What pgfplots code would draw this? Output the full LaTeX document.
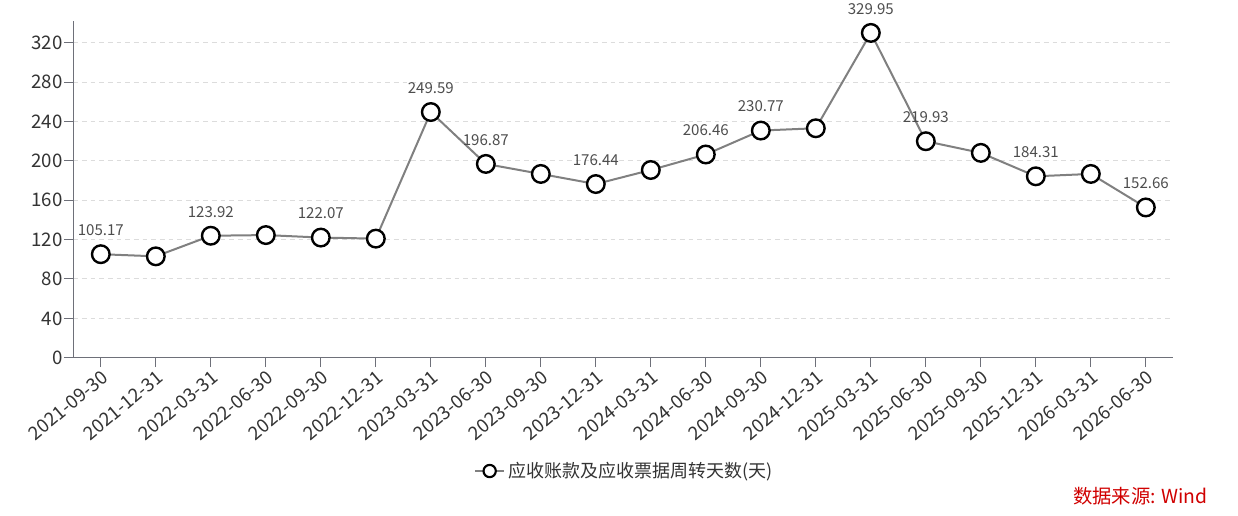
\documentclass[border=0pt]{standalone}
\usepackage{pgfplots}
\pgfplotsset{compat=1.18}
\usepackage{fontspec}
\setmainfont{Noto Sans CJK SC}
\definecolor{axisgray}{HTML}{6E7079}
\definecolor{gridgray}{HTML}{DCDCDC}
\definecolor{linegray}{HTML}{808080}
\definecolor{txt}{HTML}{333333}
\definecolor{lbl}{HTML}{4D4D4D}
\definecolor{srcred}{HTML}{D00000}
\begin{document}
\begin{tikzpicture}
\path[use as bounding box] (0,0) rectangle (928.5pt,-387pt);
\begin{axis}[
    at={(54.98pt,-268.3pt)}, anchor=south west,
    scale only axis,
    width=825pt, height=252.5pt,
    xmin=-0.5, xmax=19.5,
    ymin=0, ymax=342,
    clip=false,
    axis lines*=left,
    axis line style={axisgray, line width=0.75pt, -},
    xtick=data,
    xticklabels={2021-09-30,2021-12-31,2022-03-31,2022-06-30,2022-09-30,2022-12-31,2023-03-31,2023-06-30,2023-09-30,2023-12-31,2024-03-31,2024-06-30,2024-09-30,2024-12-31,2025-03-31,2025-06-30,2025-09-30,2025-12-31,2026-03-31,2026-06-30},
    ytick={0,40,...,320},
    tick align=outside,
    major tick length=7pt,
    tick style={axisgray, line width=0.75pt},
    ymajorgrids=true,
    grid style={gridgray, line width=0.75pt, dash pattern=on 3.5pt off 3pt},
    /pgf/number format/assume math mode=true,
    ticklabel style={font=\fontsize{14}{16}\selectfont, text=txt},
    yticklabel style={inner sep=1pt},
    xticklabel style={rotate=40, anchor=north east, inner sep=1pt},
    legend style={draw=none, fill=none, at={(0.501,-0.3365)}, anchor=center,
        font=\fontsize{13.5}{16}\selectfont, text=txt},
    legend image code/.code={
        \draw[linegray, line width=1.5pt] (0pt,0pt) -- (22pt,0pt);
        \draw[black, fill=white, line width=1.6pt] (11pt,0pt) circle (4.6pt);
    },
    nodes near coords={\pgfplotspointmeta},
    point meta=explicit symbolic,
    every node near coord/.style={anchor=center, yshift=18pt,
        font=\fontsize{11.3}{13}\selectfont, text=lbl},
]
\addplot[linegray, line width=1.5pt, mark=*,
    mark size=6.6pt,
    mark options={draw=black, fill=white, line width=1.8pt}]
    table[x=x, y=y, meta=lab] {
x y lab
0 105.17 105.17
1 103.0 {}
2 123.92 123.92
3 124.6 {}
4 122.07 122.07
5 121.0 {}
6 249.59 249.59
7 196.87 196.87
8 186.7 {}
9 176.44 176.44
10 190.7 {}
11 206.46 206.46
12 230.77 230.77
13 233.1 {}
14 329.95 329.95
15 219.93 219.93
16 208.1 {}
17 184.31 184.31
18 186.7 {}
19 152.66 152.66
};
\addlegendentry{应收账款及应收票据周转天数(天)}
\end{axis}
\node[anchor=east, text=srcred, font=\fontsize{14.5}{17}\selectfont, inner sep=0pt] at (906pt,-372pt) {数据来源: Wind};
\end{tikzpicture}
\end{document}
